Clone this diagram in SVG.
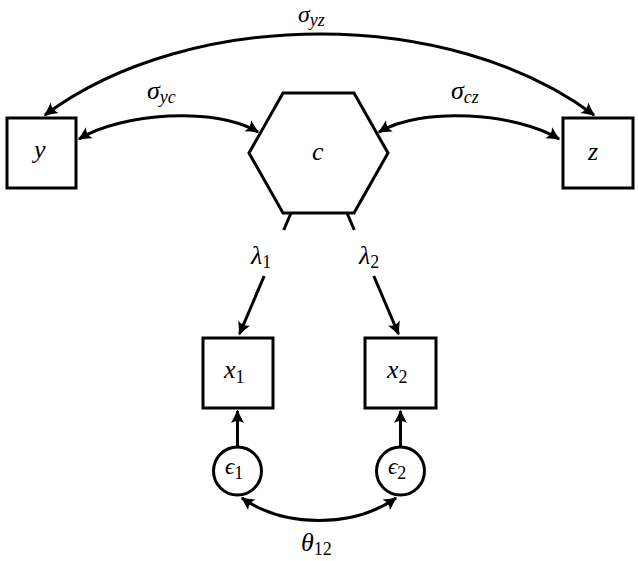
<svg xmlns="http://www.w3.org/2000/svg" width="638" height="561" viewBox="0 0 638 561">
<style>
.n{fill:#fff;stroke:#000;stroke-width:3}
.e{fill:none;stroke:#000;stroke-width:3}
text{font-family:'Liberation Serif','Times New Roman','DejaVu Serif',serif;font-style:italic;font-size:26px;fill:#000}
.s{font-size:18px}
.r{font-style:normal}
</style>
<defs>
<marker id="ah" viewBox="-14 -7 16 14" refX="0" refY="0" markerWidth="16" markerHeight="14" markerUnits="userSpaceOnUse" orient="auto-start-reverse">
<path d="M1.5,0 Q-5,-2.5 -12,-6.5 Q-8,0 -12,6.5 Q-5,2.5 1.5,0 Z" fill="#000"/>
</marker>
</defs>
<rect width="638" height="561" fill="#fff"/>
<g id="edges">
<path class="e" d="M45,115 C190,7 450,7 594,115" marker-start="url(#ah)" marker-end="url(#ah)"/>
<path class="e" d="M79,139 C122,113 215,106 258,132" marker-start="url(#ah)" marker-end="url(#ah)"/>
<path class="e" d="M379,132 C423,106 516,113 559,139" marker-start="url(#ah)" marker-end="url(#ah)"/>
<path class="e" d="M291,213 L283.7,230"/>
<path class="e" d="M264.2,276 L239.5,334" marker-end="url(#ah)"/>
<path class="e" d="M347,213 L354.3,230"/>
<path class="e" d="M373.8,276 L398.5,334" marker-end="url(#ah)"/>
<path class="e" d="M237.5,446 L237.5,411" marker-end="url(#ah)"/>
<path class="e" d="M400.5,446 L400.5,411" marker-end="url(#ah)"/>
<path class="e" d="M242,498 C285,528 353,528 396,498" marker-start="url(#ah)" marker-end="url(#ah)"/>
</g>
<g id="y"><rect class="n" x="7" y="118" width="69" height="70"/><text x="34" y="158">y</text></g>
<g id="c"><polygon class="n" points="249,153 283,93 354,93 388,153 354,213 283,213"/><text x="312" y="160">c</text></g>
<g id="z"><rect class="n" x="563" y="118" width="70" height="70"/><text x="588" y="160">z</text></g>
<g id="x1"><rect class="n" x="203" y="338" width="70" height="70"/><text x="224" y="378">x<tspan class="s r" dy="5">1</tspan></text></g>
<g id="x2"><rect class="n" x="365" y="338" width="71" height="70"/><text x="387" y="378">x<tspan class="s r" dy="5">2</tspan></text></g>
<g id="e1"><circle class="n" cx="237.5" cy="471" r="24"/><text x="225" y="474" style="font-size:23px">ϵ<tspan class="s r" dy="5">1</tspan></text></g>
<g id="e2"><circle class="n" cx="400.5" cy="471" r="24"/><text x="388" y="474" style="font-size:23px">ϵ<tspan class="s r" dy="5">2</tspan></text></g>
<g id="labels">
<text x="298" y="22" style="font-size:24px">σ<tspan class="s" dy="4">yz</tspan></text>
<text x="147" y="99">σ<tspan class="s" dy="4">yc</tspan></text>
<text x="451" y="99">σ<tspan class="s" dy="4">cz</tspan></text>
<text x="251" y="264">λ<tspan class="s r" dy="4">1</tspan></text>
<text x="359" y="264">λ<tspan class="s r" dy="4">2</tspan></text>
<text x="301" y="551">θ<tspan class="s r" dy="4">12</tspan></text>
</g>
</svg>
